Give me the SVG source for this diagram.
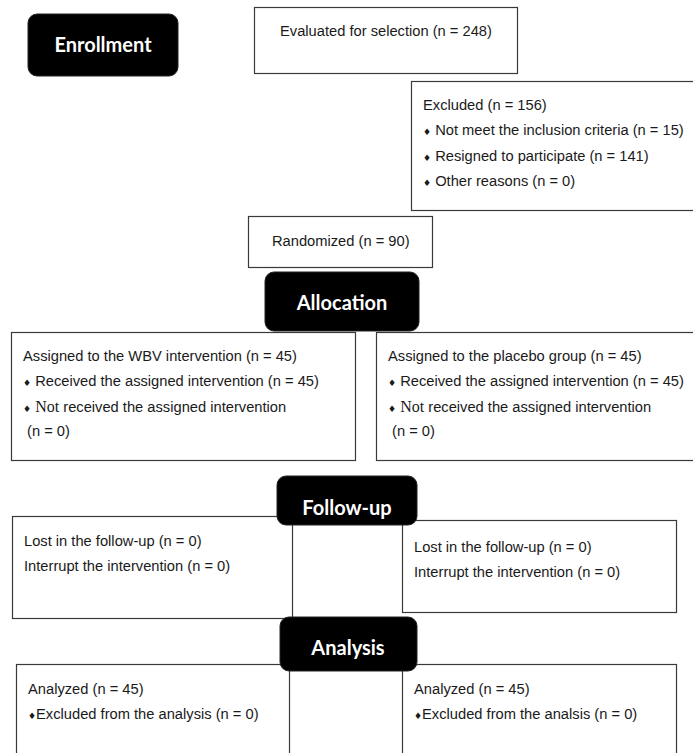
<svg xmlns="http://www.w3.org/2000/svg" width="693" height="753" viewBox="0 0 693 753">
<style>
.box{fill:#fff;stroke:#3a3a3a;stroke-width:1.2}
.hdr{fill:#000;stroke:#222;stroke-width:1}
.ht{font-family:Lato,"Open Sans",sans-serif;font-weight:700;font-size:20px;fill:#fff;text-anchor:middle}
.t{font-family:"Liberation Sans",Arial,sans-serif;font-size:14.7px;fill:#1a1a1a}
.b{font-family:"DejaVu Sans",sans-serif;font-size:9px}
.s{font-family:"Liberation Serif","Times New Roman",serif;font-size:16px}
</style>
<rect width="693" height="753" fill="#fff"/>
<g id="connectors"></g>

<g id="evaluated">
<rect class="box" x="254.5" y="7.5" width="263" height="66"/>
<text class="t" x="280" y="36">Evaluated for selection (n = 248)</text>
</g>
<g id="excluded">
<rect class="box" x="411.5" y="81.5" width="300" height="129"/>
<text class="t" x="423" y="110">Excluded (n = 156)</text>
<text class="t" x="423" y="135"><tspan class="b">♦</tspan> Not meet the inclusion criteria (n = 15)</text>
<text class="t" x="423" y="161"><tspan class="b">♦</tspan> Resigned to participate (n = 141)</text>
<text class="t" x="423" y="186"><tspan class="b">♦</tspan> Other reasons (n = 0)</text>
</g>
<g id="randomized">
<rect class="box" x="248.5" y="216.5" width="184" height="51"/>
<text class="t" x="272" y="246">Randomized (n = 90)</text>
</g>
<g id="wbv">
<rect class="box" x="11.5" y="332.5" width="344" height="128"/>
<text class="t" x="23" y="361">Assigned to the WBV intervention (n = 45)</text>
<text class="t" x="23" y="386"><tspan class="b">♦</tspan> Received the assigned intervention (n = 45)</text>
<text class="t" x="23" y="412"><tspan class="b">♦</tspan> <tspan class="s">Not</tspan> received the assigned intervention</text>
<text class="t" x="27" y="436">(n = 0)</text>
</g>
<g id="placebo">
<rect class="box" x="376.5" y="332.5" width="330" height="128"/>
<text class="t" x="388" y="361">Assigned to the placebo group (n = 45)</text>
<text class="t" x="388" y="386"><tspan class="b">♦</tspan> Received the assigned intervention (n = 45)</text>
<text class="t" x="388" y="412"><tspan class="b">♦</tspan> <tspan class="s">Not</tspan> received the assigned intervention</text>
<text class="t" x="392" y="436">(n = 0)</text>
</g>
<g id="followup-left">
<rect class="box" x="12.5" y="516.5" width="280" height="102"/>
<text class="t" x="24" y="546">Lost in the follow-up (n = 0)</text>
<text class="t" x="24" y="571">Interrupt the intervention (n = 0)</text>
</g>
<g id="followup-right">
<rect class="box" x="402.5" y="520.5" width="274" height="92"/>
<text class="t" x="414" y="552">Lost in the follow-up (n = 0)</text>
<text class="t" x="414" y="577">Interrupt the intervention (n = 0)</text>
</g>
<g id="analysis-left">
<rect class="box" x="16.5" y="664.5" width="273" height="110"/>
<text class="t" x="28" y="694">Analyzed (n = 45)</text>
<text class="t" x="28" y="719"><tspan class="b">♦</tspan>Excluded from the analysis (n = 0)</text>
</g>
<g id="analysis-right">
<rect class="box" x="402.5" y="664.5" width="274" height="110"/>
<text class="t" x="414" y="694">Analyzed (n = 45)</text>
<text class="t" x="414" y="719"><tspan class="b">♦</tspan>Excluded from the analsis (n = 0)</text>
</g>

<g id="enrollment">
<rect class="hdr" x="28" y="14" width="150" height="62" rx="9"/>
<text class="ht" x="103" y="52">Enrollment</text>
</g>
<g id="allocation">
<rect class="hdr" x="265" y="272" width="154" height="59" rx="9"/>
<text class="ht" x="342" y="310">Allocation</text>
</g>
<g id="followup">
<rect class="hdr" x="277" y="476" width="140" height="49" rx="9"/>
<text class="ht" x="347" y="515">Follow-up</text>
</g>
<g id="analysis">
<rect class="hdr" x="280" y="617" width="137" height="54" rx="9"/>
<text class="ht" x="348" y="655">Analysis</text>
</g>
</svg>
